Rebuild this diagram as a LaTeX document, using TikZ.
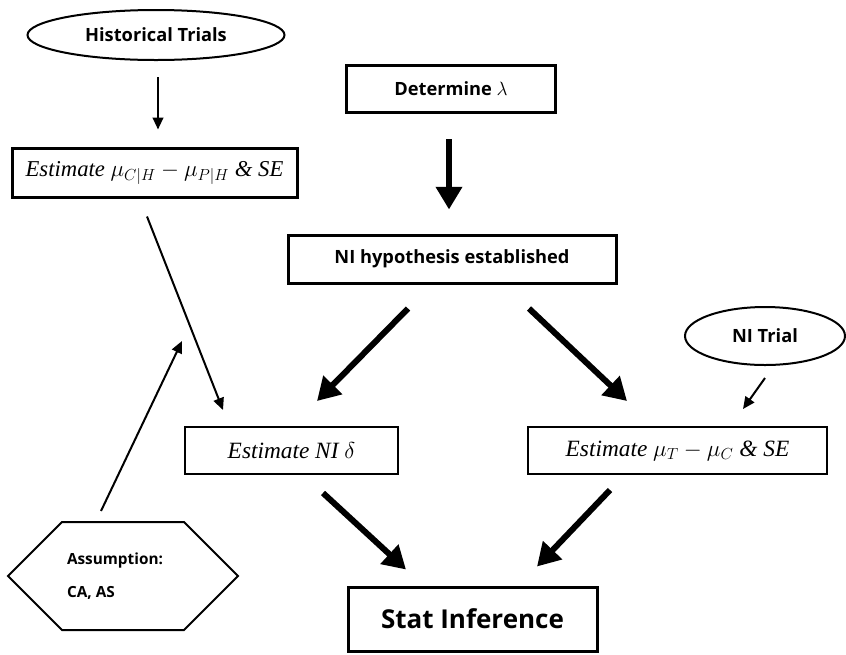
\documentclass[tikz,border=0pt]{standalone}
\usepackage{fontspec}
\setmainfont{Liberation Serif}
\setsansfont{Open Sans}
\usetikzlibrary{arrows.meta,shapes.geometric,shapes.symbols}

\begin{document}
\begin{tikzpicture}[
  x=0.75pt, y=-0.75pt,
  block/.style={rectangle, draw, line width=1.5pt, inner sep=0pt, font=\itshape\fontsize{17.5}{20}\selectfont},
  heavy/.style={block, line width=2.25pt},
  boldtext/.style={font=\sffamily\bfseries\fontsize{13.7}{16}\selectfont},
  oval/.style={ellipse, draw, line width=1.5pt, inner sep=0pt, boldtext},
  thinarrow/.style={line width=1.5pt, -{Triangle[width=8pt, length=9pt]}},
  bigarrow/.style={line width=4.5pt, -{Triangle[width=19pt, length=17pt]}}
]
\fill[white] (0,0) rectangle (846,654);
\useasboundingbox (0,0) rectangle (846,654);

\node[oval, minimum width=192.75pt, minimum height=37.5pt] (hist) at (156,35) {Historical Trials};
\node[heavy, font=\itshape\fontsize{17}{20}\selectfont, minimum width=213.75pt, minimum height=36.75pt] (estmu) at (154.5,172.5) {Estimate $\mu_{C|H}-\mu_{P|H}$ \& SE};
\node[heavy, boldtext, minimum width=156.75pt, minimum height=35.25pt] (det) at (451,89) {Determine $\lambda$};
\node[heavy, boldtext, minimum width=246pt, minimum height=36pt] (nih) at (452,259) {NI hypothesis established};
\node[oval, minimum width=120pt, minimum height=43.5pt] (trial) at (765,336) {NI Trial};
\node[block, minimum width=159.75pt, minimum height=35.25pt] (delta) at (291.5,450.5) {Estimate NI $\delta$};
\node[block, minimum width=224.25pt, minimum height=35.25pt] (diff) at (677.5,450.5) {Estimate $\mu_T-\mu_C$ \& SE};
\node[heavy, font=\sffamily\bfseries\fontsize{19.5}{23}\selectfont, minimum width=186.75pt, minimum height=48pt] (stat) at (472.5,619) {Stat Inference};
\node[signal, signal to=east and west, signal pointer angle=90, draw, line width=1.5pt,
  minimum width=172.5pt, minimum height=81pt, inner sep=0pt, align=left,
  font=\sffamily\bfseries\fontsize{11.5}{14}\selectfont] (assum) at (123,576)
  {Assumption:\hspace*{12pt}\\[11pt]CA, AS};
\coordinate (assumtip) at (182,341);

\draw[thinarrow] ([shift={(2,16)}]hist.south) -- ([shift={(3.5,-17)}]estmu.north);
\draw[bigarrow] ([shift={(-2,25)}]det.south) -- ([shift={(-3,-24)}]nih.north);
\draw[bigarrow] ([shift={(-44,24)}]nih.south) -- ([shift={(25.5,-25)}]delta.north);
\draw[bigarrow] ([shift={(77,24)}]nih.south) -- ([shift={(-50.5,-25)}]diff.north);
\draw[thinarrow] ([shift={(0,12)}]trial.south) -- ([shift={(65.5,-17)}]diff.north);
\draw[bigarrow] ([shift={(31.5,18)}]delta.south) -- ([shift={(-66.5,-16)}]stat.north);
\draw[bigarrow] ([shift={(-67.5,15)}]diff.south) -- ([shift={(64.5,-19)}]stat.north);
\draw[thinarrow] ([shift={(-7.5,18)}]estmu.south) -- ([shift={(-68.5,-16)}]delta.north);
\draw[thinarrow] ([shift={(-22,-10)}]assum.north) -- (assumtip);
\end{tikzpicture}
\end{document}
